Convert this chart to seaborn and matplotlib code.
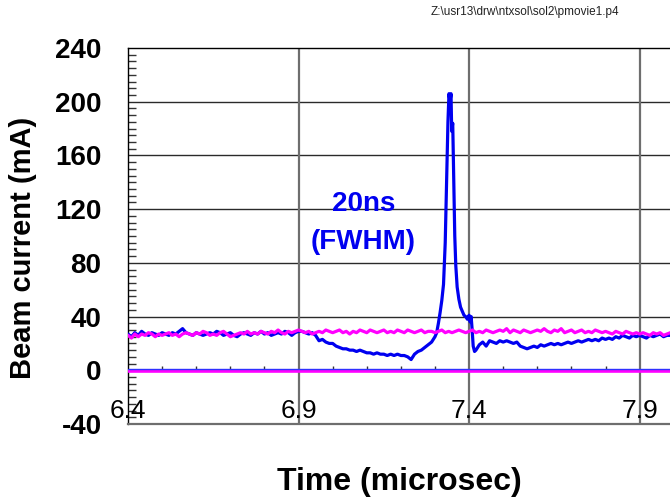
import numpy as np
import pandas as pd
import matplotlib
matplotlib.use("Agg")
import matplotlib.pyplot as plt
from matplotlib.ticker import MultipleLocator
import seaborn as sns

# ---------------- data ----------------
# blue trace (beam current, mA), uniform 0.01 us sampling before / after the pulse
blue_pre_start, blue_pre_step = 6.40, 0.01
blue_pre = [27, 25, 28, 26, 29, 27, 26, 28, 27, 26, 28,
            27, 26, 28, 27, 29, 31, 28, 27, 26, 28,
            27, 26, 27, 28, 27, 29, 28, 26, 27, 28,
            26, 25, 27, 28, 27, 26, 28, 27, 29, 27,
            28, 26, 27, 28, 27, 29, 28, 26, 28, 29,
            29, 28, 27, 28, 26, 22, 23, 21, 20, 20,
            18, 17, 16, 16, 15, 15, 14, 15, 14, 13,
            13, 12, 13, 12, 12, 11, 12, 11, 12, 11,
            11, 10, 8, 12, 14, 15, 17, 19, 21, 25]
peak_t = [7.305, 7.310, 7.315, 7.320, 7.325, 7.330, 7.334, 7.338, 7.341, 7.344,
          7.347, 7.349, 7.352, 7.355, 7.358, 7.361, 7.365, 7.370, 7.375, 7.380,
          7.385, 7.390, 7.395, 7.400, 7.403, 7.406, 7.409, 7.412, 7.416]
peak_v = [28, 35, 43, 52, 64, 95, 140, 185, 206, 200,
          206, 178, 184, 140, 100, 78, 62, 53, 47, 44,
          41, 40, 38, 41, 36, 40, 30, 18, 14]
blue_post_start = 7.42
blue_post = [15, 19, 21, 18, 22, 21, 20, 22, 21,
             22, 21, 20, 21, 18, 17, 16, 17, 18, 17,
             19, 18, 19, 20, 19, 20, 19, 20, 21, 20,
             21, 22, 21, 22, 23, 22, 23, 22, 24, 23,
             24, 23, 25, 24, 26, 25, 24, 26, 25, 26,
             25, 24, 26, 25, 26, 27, 25, 26, 26]

# magenta trace, uniform 0.01 us from 6.40
mag_start = 6.40
magenta = [26, 24, 27, 25, 27, 26, 28, 27, 25, 27,
           26, 27, 28, 26, 27, 25, 27, 28, 27, 26,
           28, 27, 29, 28, 26, 27, 26, 28, 29, 27,
           25, 26, 27, 28, 27, 29, 27, 28, 27, 29,
           28, 27, 29, 28, 30, 28, 27, 29, 28, 29,
           30, 29, 28, 29, 27, 28, 29, 28, 30, 29,
           28, 29, 30, 28, 29, 27, 29, 28, 30, 29,
           28, 30, 29, 28, 29, 30, 28, 29, 28, 30,
           29, 28, 30, 29, 28, 29, 30, 28, 29, 29,
           28, 29, 30, 28, 29, 28, 29, 30, 29, 28,
           29, 30, 28, 29, 28, 30, 29, 28, 29, 30,
           29, 31, 28, 30, 29, 28, 30, 29, 28, 29,
           30, 29, 31, 29, 28, 30, 29, 31, 28, 29,
           30, 28, 29, 30, 28, 29, 28, 30, 29, 28,
           29, 28, 27, 29, 28, 27, 29, 28, 27, 28,
           27, 28, 27, 26, 28, 27, 28, 26, 27, 28]

zero_levels = {"blue": 1.0, "magenta": -0.6}

x_ticks = [6.4, 6.9, 7.4, 7.9]
x_tick_labels = ["6.4", "6.9", "7.4", "7.9"]
y_ticks = [-40, 0, 40, 80, 120, 160, 200, 240]
title_text = "Z:\\usr13\\drw\\ntxsol\\sol2\\pmovie1.p4"
annot_lines = ["20ns", "(FWHM)"]
annot_x, annot_y = 7.09, [124, 95.5]

# ---------------- build frames ----------------
t_pre = blue_pre_start + blue_pre_step * np.arange(len(blue_pre))
t_post = blue_post_start + blue_pre_step * np.arange(len(blue_post))
blue_df = pd.DataFrame({
    "t": np.concatenate([t_pre, peak_t, t_post]),
    "v": np.concatenate([blue_pre, peak_v, blue_post]),
})
mag_df = pd.DataFrame({"t": mag_start + 0.01 * np.arange(len(magenta)), "v": magenta})

# ---------------- plot ----------------
sns.set_style("white")
plt.rcParams["font.family"] = ["Liberation Sans", "DejaVu Sans"]
plt.rcParams["text.color"] = "black"
plt.rcParams["axes.labelcolor"] = "black"
plt.rcParams["xtick.color"] = "black"
plt.rcParams["ytick.color"] = "black"

BLUE = "#0000F0"
MAG = "#FF00FF"

fig = plt.figure(figsize=(6.70, 4.97), dpi=100)
ax = fig.add_axes([128 / 670, 73 / 497, 542 / 670, 376 / 497])
ax.set_xlim(6.4, 7.989)
ax.set_ylim(-40, 240)

# grid
for y in y_ticks[1:-1]:
    ax.axhline(y, color="#2a2a2a", lw=1.0, zorder=1)
for x in x_ticks[1:]:
    ax.axvline(x, color="#6e6e6e", lw=1.6, zorder=1)

# zero levels
ax.axhline(zero_levels["magenta"], color=MAG, lw=2.6, zorder=3)
ax.axhline(zero_levels["blue"], color="#3030FF", lw=1.0, zorder=3)

# minor x ticks drawn on zero line
minor_x = [x for x in np.round(np.arange(6.5, 7.99, 0.1), 2) if round(x, 1) not in x_ticks]
ax.vlines(minor_x, 0, 3.5, color="#333333", lw=1.0, zorder=2)

sns.lineplot(data=blue_df, x="t", y="v", ax=ax, color=BLUE, lw=2.3,
             estimator=None, sort=False, zorder=4)
sns.lineplot(data=mag_df, x="t", y="v", ax=ax, color=MAG, lw=2.3,
             estimator=None, sort=False, zorder=5)

# spines
ax.spines["right"].set_visible(False)
ax.spines["left"].set_color("black")
ax.spines["left"].set_linewidth(1.0)
ax.spines["top"].set_color("black")
ax.spines["top"].set_linewidth(1.0)
ax.spines["bottom"].set_color("#6e6e6e")
ax.spines["bottom"].set_linewidth(1.6)

# y ticks
ax.set_yticks(y_ticks)
ax.set_yticklabels([str(v) for v in y_ticks], fontsize=20, fontweight="bold",
                   color="black")
ax.yaxis.set_minor_locator(MultipleLocator(5))
ax.tick_params(axis="y", which="major", length=0, pad=19)
ax.tick_params(axis="y", which="minor", direction="in", length=5.5, width=1.0,
               color="#333333", left=True, right=False)

# x ticks: labels drawn inside the axes
ax.set_xticks(x_ticks)
ax.tick_params(axis="x", which="both", length=0, labelbottom=False)
for x, lab in zip(x_ticks, x_tick_labels):
    ax.text(x, -39.2, lab, ha="center", va="bottom", fontsize=19, color="black", zorder=6)

ax.set_xlabel("Time (microsec)", fontsize=23, fontweight="bold", labelpad=31,
              color="black")
ax.set_ylabel("Beam current (mA)", fontsize=21, fontweight="bold", color="black")
ax.yaxis.set_label_coords(-0.168, 0.468)

for line, yy in zip(annot_lines, annot_y):
    ax.text(annot_x, yy, line, ha="center", va="center", fontsize=20,
            fontweight="bold", color=BLUE, zorder=6)

fig.text(525 / 670, 1 - 12.5 / 497, title_text, ha="center", va="center",
         fontsize=8.5, color="#222222")

ax.set_facecolor("white")
fig.savefig("out.png", dpi=100, facecolor="white")
